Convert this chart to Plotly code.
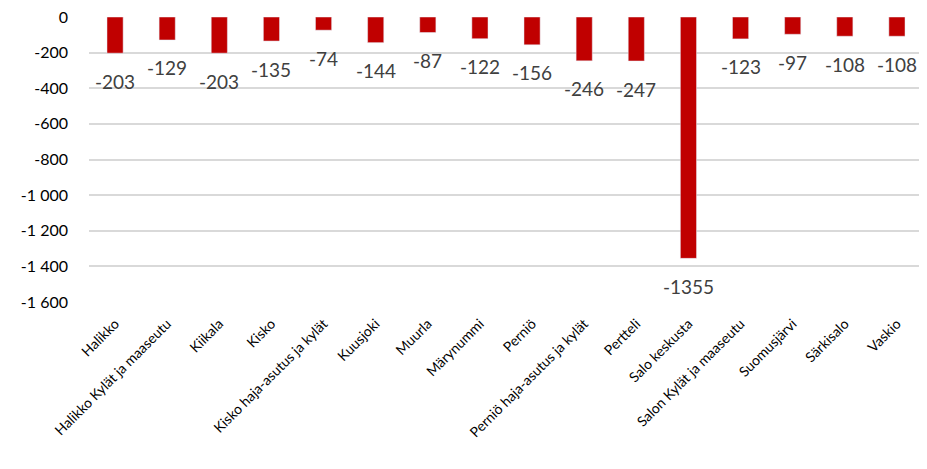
import plotly.graph_objects as go

categories = ["Halikko", "Halikko Kylät ja maaseutu", "Kiikala", "Kisko",
              "Kisko haja-asutus ja kylät", "Kuusjoki", "Muurla", "Märynummi",
              "Perniö", "Perniö haja-asutus ja kylät", "Pertteli", "Salo keskusta",
              "Salon Kylät ja maaseutu", "Suomusjärvi", "Särkisalo", "Vaskio"]
values = [-203, -129, -203, -135, -74, -144, -87, -122, -156, -246, -247,
          -1355, -123, -97, -108, -108]
y_tickvals = [0, -200, -400, -600, -800, -1000, -1200, -1400, -1600]
y_ticktext = ["0", "-200", "-400", "-600", "-800", "-1 000", "-1 200", "-1 400", "-1 600"]

fig = go.Figure(go.Bar(
    x=categories, y=values,
    marker=dict(color="#C00000"),
    cliponaxis=False,
))

for c, v in zip(categories, values):
    fig.add_annotation(
        x=c, y=v, xref="x", yref="y", text=str(v), showarrow=False,
        yshift=-28, font=dict(size=19, color="#404040", family="Lato"),
    )

fig.update_layout(
    width=927, height=469,
    margin=dict(l=81, r=12, t=9, b=175),
    plot_bgcolor="white", paper_bgcolor="white",
    bargap=0.69,
    showlegend=False,
    font=dict(family="Lato", color="#000000"),
)
fig.update_yaxes(
    range=[-1600, 0], tickvals=y_tickvals, ticktext=y_ticktext,
    showgrid=True, gridcolor="#D9D9D9", gridwidth=1.5, zeroline=False,
    tickfont=dict(size=16, color="#000000"), ticks="", ticklen=0,
    ticklabelstandoff=20, automargin=False, ticklabeloverflow="allow",
)
fig.update_xaxes(
    tickangle=-45, tickfont=dict(size=14, color="#000000"),
    showline=False, ticks="", automargin=False, ticklabelstandoff=10,
)

fig.write_html("out.html")
